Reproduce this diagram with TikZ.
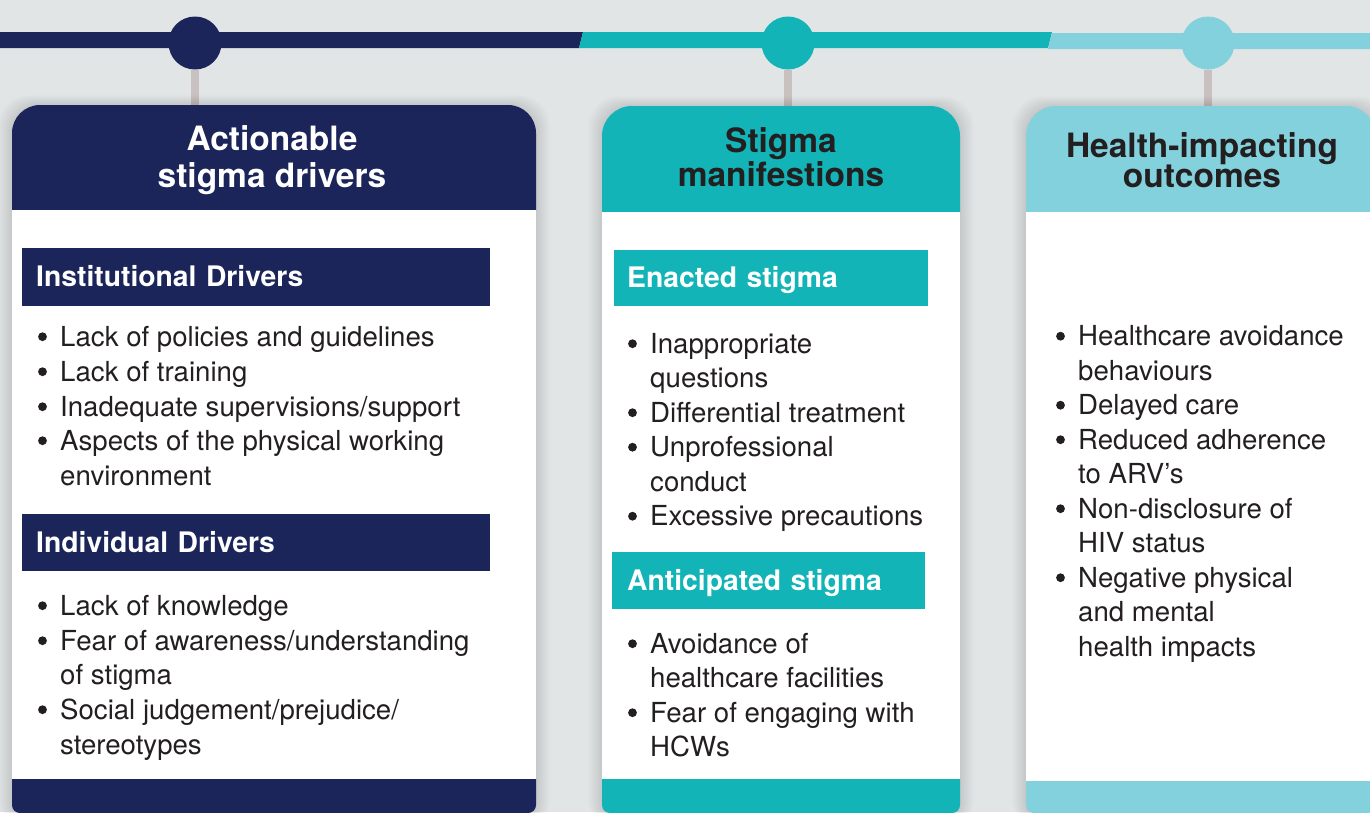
\documentclass[tikz,border=0pt]{standalone}
\usepackage{fontspec}
\setmainfont{TeX Gyre Heros}
\definecolor{bgcol}{HTML}{E1E5E6}
\definecolor{navy}{HTML}{1B2559}
\definecolor{teal}{HTML}{12B4B7}
\definecolor{sky}{HTML}{83D1DC}
\definecolor{stemgray}{HTML}{C9C0C0}
\definecolor{ink}{HTML}{231F20}
\newcommand\headfont{\fontsize{33.5}{30.5}\selectfont\bfseries}
\newcommand\subfont{\fontsize{28.3}{30}\selectfont\bfseries}
\newcommand\listfont{\fontsize{27.6}{30}\selectfont}
% soft shadow behind a column card: x1, top, x2
\newcommand\cardshadow[3]{%
  \foreach \s in {1,...,14}
    \fill[black, opacity=0.008, rounded corners=30pt]
      ({#1-\s}, {#2-0.7*\s}) rectangle ({#3+\s}, 830);}
% column card: x1, top, x2, header bottom, band top, colour, corner radius
\newcommand\card[7]{%
  \fill[#6] (#1,#4) [rounded corners=#7pt] -- (#1,#2) -- (#3,#2) [sharp corners] -- (#3,#4) -- cycle;
  \fill[white] (#1,#4) rectangle (#3,#5);
  \fill[#6] (#1,#5) [rounded corners=8pt] -- (#1,813) -- (#3,813) [sharp corners] -- (#3,#5) -- cycle;}
% one list line: name prefix, index, x, baseline y, bullet flag (1/0), text
\newcommand\listline[6]{%
  \node[item] (#1#2) at (#3,#4) {#6};
  \ifnum#5=1 \fill[ink] ({#3-17.5},{#4-9.3}) circle (4.4pt);\fi}
\begin{document}
\begin{tikzpicture}[x=1pt, y=-1pt,
  dot/.style={circle, inner sep=0pt, minimum size=53pt},
  stem/.style={draw=stemgray, line width=8pt},
  head/.style={anchor=base, inner sep=0pt, align=center, font=\headfont},
  subhead/.style={anchor=north west, inner ysep=0pt, text height=19pt, text depth=0pt,
                  align=left, font=\subfont, text=white},
  item/.style={anchor=base west, inner sep=0pt, font=\listfont, text=ink}]

% page background
\fill[bgcol] (0,0) rectangle (1370,812);
\useasboundingbox (0,0) rectangle (1370,812);

% timeline bar in three colour segments
\fill[navy] (0,32) -- (583,32) -- (579,48) -- (0,48) -- cycle;
\fill[teal] (583,32) -- (1052,32) -- (1048,48) -- (579,48) -- cycle;
\fill[sky] (1052,33) -- (1370,33) -- (1370,49) -- (1048,49) -- cycle;

% timeline markers
\node[dot, fill=navy] (c1) at (195,43) {};
\node[dot, fill=teal] (c2) at (788,43) {};
\node[dot, fill=sky] (c3) at (1208,43) {};
\coordinate (t1) at (195,112);
\coordinate (t2) at (788,112);
\coordinate (t3) at (1208,112);
\draw[stem] (c1.south) -- (t1);
\draw[stem] (c2.south) -- (t2);
\draw[stem] (c3.south) -- (t3);

% cards
\cardshadow{12}{105}{536}
\cardshadow{602}{106}{960}
\cardshadow{1026}{106}{1376}
\card{12}{105}{536}{210}{779}{navy}{28}
\card{602}{106}{960}{212}{779}{teal}{30}
\card{1026}{106}{1376}{212}{781}{sky}{30}

% card titles (anchored on the baseline of the last line)
\node[head, text=white] (h1) at (272,187) {Actionable\\[6.5pt]stigma drivers};
\node[head, text=ink] (h2) at (781,186) {Stigma\\manifestions};
\node[head, text=ink] (h3) at (1202,187.5) {Health-impacting\\outcomes};

% section labels
\node[subhead, fill=navy, inner xsep=14pt, text width=440pt, minimum height=58pt] (s1) at (22,248) {Institutional Drivers};
\node[subhead, fill=navy, inner xsep=14pt, text width=440pt, minimum height=57pt] (s2) at (22,514) {Individual Drivers};
\node[subhead, fill=teal, inner xsep=13pt, text width=288pt, minimum height=56pt] (s3) at (614,250) {Enacted stigma};
\node[subhead, fill=teal, inner xsep=15pt, text width=283pt, minimum height=57pt] (s4) at (612,552) {Anticipated stigma};

% institutional drivers
\listline{a}{1}{60}{346}{1}{Lack of policies and guidelines}
\listline{a}{2}{60}{381}{1}{Lack of training}
\listline{a}{3}{60}{416}{1}{Inadequate supervisions/support}
\listline{a}{4}{60}{450}{1}{Aspects of the physical working}
\listline{a}{5}{60}{485}{0}{environment}

% individual drivers
\listline{b}{1}{60}{615}{1}{Lack of knowledge}
\listline{b}{2}{60}{650}{1}{Fear of awareness/understanding}
\listline{b}{3}{60}{684.5}{0}{of stigma}
\listline{b}{4}{60}{719}{1}{Social judgement/prejudice/}
\listline{b}{5}{60}{754}{0}{stereotypes}

% enacted stigma
\listline{m}{1}{650}{353}{1}{Inappropriate}
\listline{m}{2}{650}{387.5}{0}{questions}
\listline{m}{3}{650}{422}{1}{Differential treatment}
\listline{m}{4}{650}{456.5}{1}{Unprofessional}
\listline{m}{5}{650}{491}{0}{conduct}
\listline{m}{6}{650}{525.5}{1}{Excessive precautions}

% anticipated stigma
\listline{n}{1}{650}{653}{1}{Avoidance of}
\listline{n}{2}{650}{687.5}{0}{healthcare facilities}
\listline{n}{3}{650}{722}{1}{Fear of engaging with}
\listline{n}{4}{650}{756.5}{0}{HCWs}

% health-impacting outcomes
\listline{o}{1}{1078}{345.5}{1}{Healthcare avoidance}
\listline{o}{2}{1078}{380}{0}{behaviours}
\listline{o}{3}{1078}{414.5}{1}{Delayed care}
\listline{o}{4}{1078}{449}{1}{Reduced adherence}
\listline{o}{5}{1078}{483.5}{0}{to ARV’s}
\listline{o}{6}{1078}{518}{1}{Non-disclosure of}
\listline{o}{7}{1078}{552.5}{0}{HIV status}
\listline{o}{8}{1078}{587}{1}{Negative physical}
\listline{o}{9}{1078}{621.5}{0}{and mental}
\listline{o}{10}{1078}{656}{0}{health impacts}

\end{tikzpicture}
\end{document}
